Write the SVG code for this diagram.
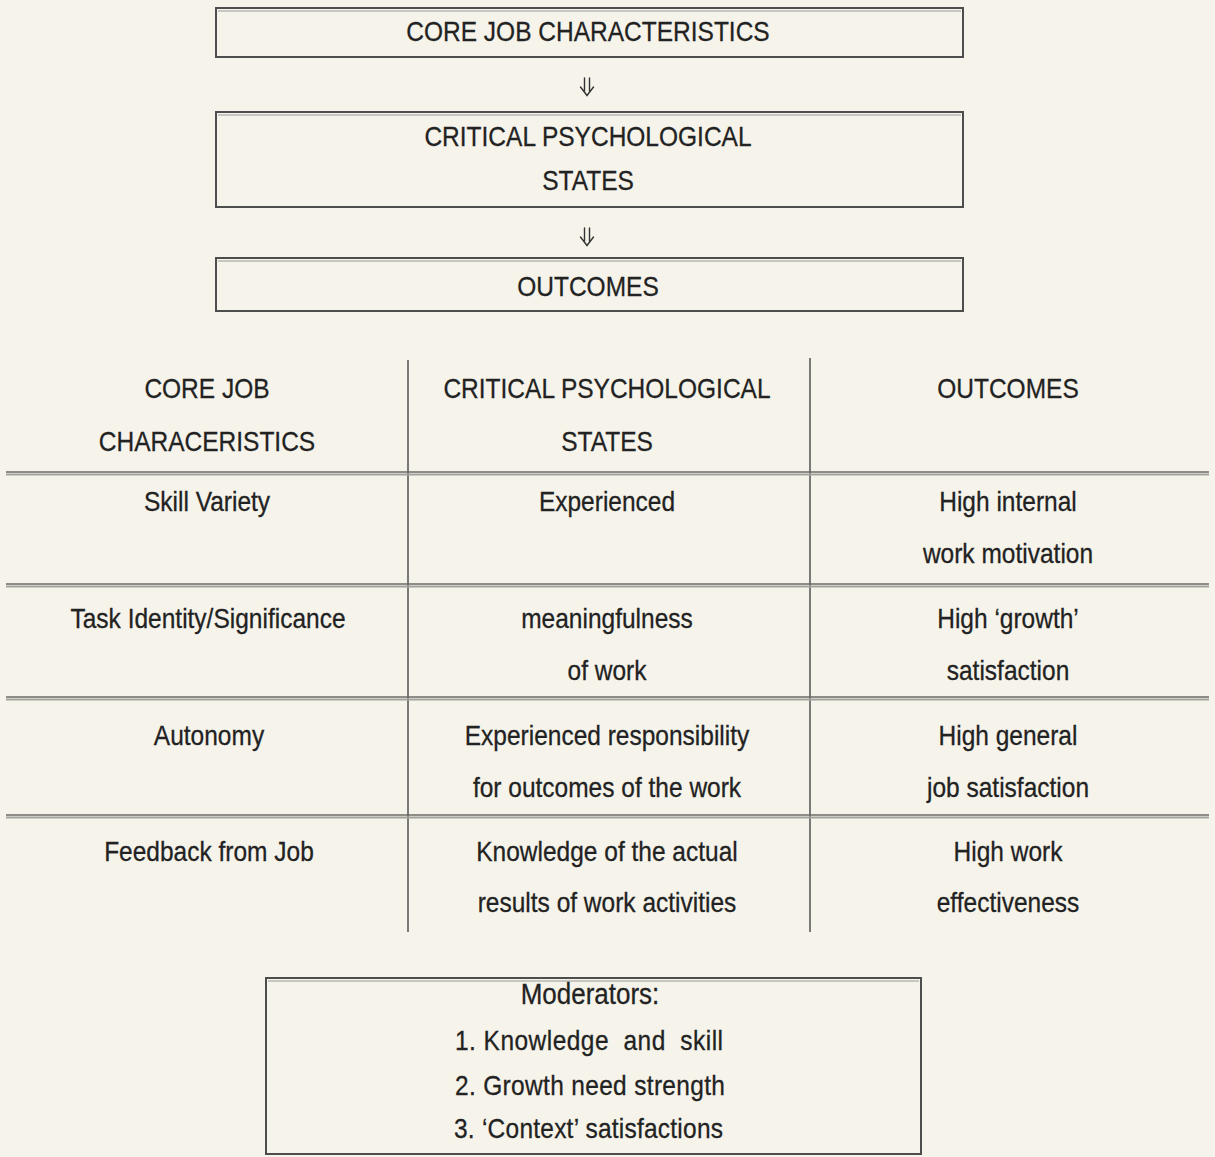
<svg xmlns="http://www.w3.org/2000/svg" width="1215" height="1157" viewBox="0 0 1215 1157">
<style>
text{font-family:"Liberation Sans",Arial,sans-serif;font-size:24.5px;transform-box:fill-box;transform-origin:50% 100%;transform:scaleY(1.1)}
.fg{fill:#222;stroke:#222;stroke-width:0.25}
.c{text-anchor:middle}
.box{fill:none;stroke:#4d4d4d;stroke-width:2}
.boxhi{fill:none;stroke:#9a9a96;stroke-width:1.2}
.vl{stroke:#5a5a5a;stroke-width:1.6}
.hl1{stroke:#6a6a66;stroke-width:1.6}
.hl2{stroke:#a3a39e;stroke-width:1.8}
.arr{fill:none;stroke:#333;stroke-width:1.4;stroke-linecap:round;stroke-linejoin:miter}
</style>
<rect width="1215" height="1157" fill="#f5f3ea"/>

<g id="box-core-job">
<rect class="box" x="216" y="8" width="747" height="49"/>
<line class="boxhi" x1="218" y1="11" x2="961" y2="11"/>
<text class="fg c" x="588" y="41">CORE JOB CHARACTERISTICS</text>
</g>
<g id="box-critical-states">
<rect class="box" x="216" y="112" width="747" height="95"/>
<line class="boxhi" x1="218" y1="115" x2="961" y2="115"/>
<text class="fg c" x="588" y="146">CRITICAL PSYCHOLOGICAL</text>
<text class="fg c" x="588" y="190">STATES</text>
</g>
<g id="box-outcomes">
<rect class="box" x="216" y="258" width="747" height="53"/>
<line class="boxhi" x1="218" y1="261" x2="961" y2="261"/>
<text class="fg c" x="588" y="296">OUTCOMES</text>
</g>

<g id="connectors">
<path class="arr" d="M584.5 78 V91 M589.5 78 V91 M580.5 87 L587 95.5 L593.5 87"/>
<path class="arr" d="M584.5 228 V241 M589.5 228 V241 M580.5 237 L587 245.5 L593.5 237"/>
</g>

<g id="table">
<g id="table-grid">
<line class="vl" x1="408" y1="360" x2="408" y2="932"/>
<line class="vl" x1="810" y1="358" x2="810" y2="932"/>
<line class="hl1" x1="6" y1="472" x2="1209" y2="472"/><line class="hl2" x1="6" y1="474.5" x2="1209" y2="474.5"/>
<line class="hl1" x1="6" y1="584" x2="1209" y2="584"/><line class="hl2" x1="6" y1="586.5" x2="1209" y2="586.5"/>
<line class="hl1" x1="6" y1="697" x2="1209" y2="697"/><line class="hl2" x1="6" y1="699.5" x2="1209" y2="699.5"/>
<line class="hl1" x1="6" y1="815" x2="1209" y2="815"/><line class="hl2" x1="6" y1="817.5" x2="1209" y2="817.5"/>
</g>
<g id="col-core-job">
<text class="fg c" x="207" y="398">CORE JOB</text>
<text class="fg c" x="207" y="451">CHARACERISTICS</text>
<text class="fg c" x="207" y="511">Skill Variety</text>
<text class="fg c" x="208" y="628">Task Identity/Significance</text>
<text class="fg c" x="209" y="745">Autonomy</text>
<text class="fg c" x="209" y="861">Feedback from Job</text>
</g>
<g id="col-critical-states">
<text class="fg c" x="607" y="398">CRITICAL PSYCHOLOGICAL</text>
<text class="fg c" x="607" y="451">STATES</text>
<text class="fg c" x="607" y="511">Experienced</text>
<text class="fg c" x="607" y="628">meaningfulness</text>
<text class="fg c" x="607" y="680">of work</text>
<text class="fg c" x="607" y="745">Experienced responsibility</text>
<text class="fg c" x="607" y="797">for outcomes of the work</text>
<text class="fg c" x="607" y="861">Knowledge of the actual</text>
<text class="fg c" x="607" y="912">results of work activities</text>
</g>
<g id="col-outcomes">
<text class="fg c" x="1008" y="398">OUTCOMES</text>
<text class="fg c" x="1008" y="511">High internal</text>
<text class="fg c" x="1008" y="563">work motivation</text>
<text class="fg c" x="1008" y="628">High ‘growth’</text>
<text class="fg c" x="1008" y="680">satisfaction</text>
<text class="fg c" x="1008" y="745">High general</text>
<text class="fg c" x="1008" y="797">job satisfaction</text>
<text class="fg c" x="1008" y="861">High work</text>
<text class="fg c" x="1008" y="912">effectiveness</text>
</g>
</g>

<g id="box-moderators">
<rect class="box" x="266" y="978" width="655" height="176"/>
<line class="boxhi" x1="268" y1="981" x2="919" y2="981"/>
<text class="fg c" x="590" y="1005" style="font-size:26px">Moderators:</text>
<text class="fg" x="455" y="1050" xml:space="preserve" textLength="268" lengthAdjust="spacing">1. Knowledge  and  skill</text>
<text class="fg" x="455" y="1095" textLength="270" lengthAdjust="spacing">2. Growth need strength</text>
<text class="fg" x="454" y="1138" textLength="269" lengthAdjust="spacing">3. ‘Context’ satisfactions</text>
</g>
</svg>
